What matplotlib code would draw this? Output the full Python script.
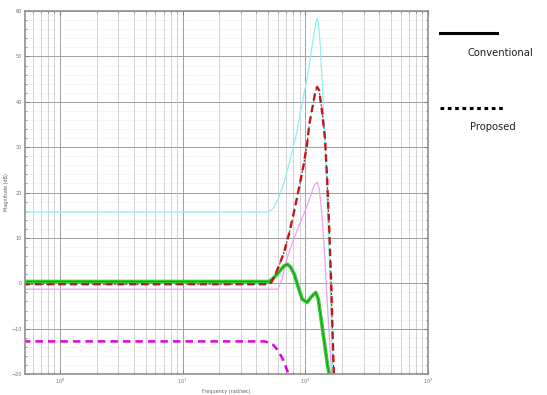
import numpy as np
import matplotlib
matplotlib.use("Agg")
import matplotlib.pyplot as plt
from matplotlib.ticker import LogLocator, MultipleLocator, NullFormatter

# ---- data (frequency in rad/s, magnitude in dB) ----
f_cyan = [0.5, 50, 55, 60, 67, 75, 85, 95, 105, 115, 122, 125, 128, 133, 140, 148, 155, 162, 170]
db_cyan = [15.7, 15.7, 16.5, 18.5, 22, 27, 33, 40, 46, 53, 57.5, 58.3, 57.5, 52, 40, 25, 10, -5, -25]

f_pink = [0.5, 60, 65, 70, 80, 90, 100, 110, 118, 125, 130, 137, 145, 152, 160, 168]
db_pink = [-1.3, -1.3, 1, 5, 9.5, 13, 16, 19, 21.5, 22.3, 21, 15, 5, -5, -15, -25]

f_red = [0.5, 51, 53, 56, 61.5, 67.5, 74, 81.5, 89, 97, 104, 108, 115, 120.5, 125, 130, 137, 145, 151, 157, 162.5, 166, 172, 178]
db_red = [-0.2, -0.2, 0.2, 1.5, 4, 7, 11, 16, 21, 26, 31, 35, 39, 42, 43.3, 42.5, 38, 32, 23, 12, 1, -8, -22, -30]

f_green = [0.5, 51, 56, 61.5, 67, 71.5, 76, 81.5, 87, 94.6, 104, 112, 122, 128, 135, 145, 152, 157, 162]
db_green = [0.4, 0.4, 1.3, 2.6, 3.8, 4.2, 3.6, 2, -0.5, -3.5, -4.2, -3, -2, -3.5, -8, -14, -18, -20, -25]

f_mag = [0.5, 46.5, 50, 55, 60, 66, 72, 78]
db_mag = [-12.8, -12.8, -13.0, -13.6, -14.8, -16.8, -19.5, -23]

xticks = [1, 10, 100, 1000]
xtick_labels = [r"$10^0$", r"$10^1$", r"$10^2$", r"$10^3$"]
yticks = [-20, -10, 0, 10, 20, 30, 40, 50, 60]

fig = plt.figure(figsize=(5.47, 3.95), dpi=100)
ax = fig.add_axes([0.0457, 0.053, 0.7365, 0.919])

ax.semilogx(f_cyan, db_cyan, color="#8ff0f0", lw=0.9)
ax.semilogx(f_pink, db_pink, color="#f0a0f0", lw=0.9)
ax.semilogx(f_mag, db_mag, color="#e000e0", lw=1.8, linestyle=(0, (3, 2)))
ax.semilogx(f_green, db_green, color="#33cc33", lw=2.6)
ax.semilogx(f_green, db_green, color="#1e8a1e", lw=0.6)
# red dashes with dark dashes in the gaps
ax.semilogx(f_red, db_red, color="#e01010", lw=1.7, linestyle=(0, (3, 2)))
ax.semilogx(f_red, db_red, color="#404040", lw=0.8, linestyle=(3, (2, 3)))

ax.set_xlim(0.52, 1000)
ax.set_ylim(-20, 60)
ax.set_xticks(xticks)
ax.set_xticklabels(xtick_labels)
ax.xaxis.set_minor_locator(LogLocator(base=10, subs=np.arange(2, 10)))
ax.xaxis.set_minor_formatter(NullFormatter())
ax.set_yticks(yticks)
ax.yaxis.set_minor_locator(MultipleLocator(2))

ax.grid(True, which="major", color="#a0a0a0", lw=0.7)
ax.grid(True, which="minor", axis="x", color="#cccccc", lw=0.6)
ax.grid(True, which="minor", axis="y", color="#dcdcdc", lw=0.5, linestyle=":")
ax.tick_params(which="both", direction="in", top=True, right=True, labelsize=3.5,
               color="#808080", labelcolor="#707070", pad=2)
ax.tick_params(which="major", length=3)
ax.tick_params(which="minor", length=1.5)
for s in ax.spines.values():
    s.set_color("#909090")
    s.set_linewidth(1.2)

ax.set_xlabel("Frequency (rad/sec)", fontsize=3.5, color="#606060", labelpad=2)
ax.set_ylabel("Magnitude (dB)", fontsize=3.5, color="#606060", labelpad=2)

# legend drawn outside the axes
legend_font = ["DejaVu Sans Condensed", "DejaVu Sans"]
fig.add_artist(plt.Line2D([440 / 547, 497 / 547], [1 - 33 / 395, 1 - 33 / 395],
                          color="black", lw=2.2, transform=fig.transFigure))
fig.text(468 / 547, 1 - 53 / 395, "Conventional", fontsize=7.2, va="center", ha="left",
         family=legend_font, color="#222222")
fig.add_artist(plt.Line2D([440 / 547, 505 / 547], [1 - 108 / 395, 1 - 108 / 395],
                          color="black", lw=2.2, linestyle=(0, (1.2, 1.2)),
                          transform=fig.transFigure))
fig.text(470 / 547, 1 - 127 / 395, "Proposed", fontsize=7.2, va="center", ha="left",
         family=legend_font, color="#222222")

fig.savefig("out.png", dpi=100)
